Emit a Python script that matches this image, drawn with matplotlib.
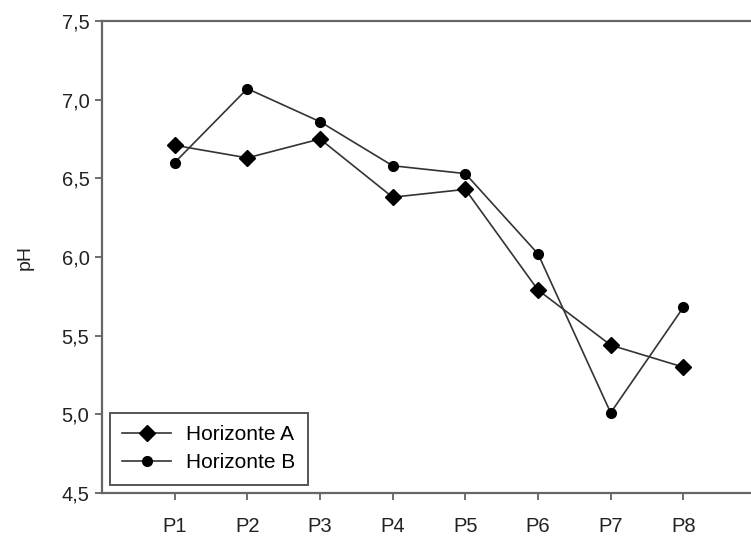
import matplotlib.pyplot as plt

plt.rcParams['font.family'] = ['Liberation Sans', 'DejaVu Sans']

points = ['P1', 'P2', 'P3', 'P4', 'P5', 'P6', 'P7', 'P8']
horizonte_a = [6.71, 6.63, 6.75, 6.38, 6.43, 5.79, 5.44, 5.30]
horizonte_b = [6.60, 7.07, 6.86, 6.58, 6.53, 6.02, 5.01, 5.68]
y_ticks = [4.5, 5.0, 5.5, 6.0, 6.5, 7.0, 7.5]

fig = plt.figure(figsize=(7.51, 5.36), dpi=100)
ax = fig.add_axes([102 / 751, 43 / 536, 654 / 751, 472 / 536])

x = range(1, len(points) + 1)
ax.plot(x, horizonte_a, color='#333333', linewidth=1.2, marker='D', markersize=8,
        markerfacecolor='black', markeredgecolor='black', label='Horizonte A')
ax.plot(x, horizonte_b, color='#333333', linewidth=1.2, marker='o', markersize=7,
        markerfacecolor='black', markeredgecolor='black', label='Horizonte B')

ax.set_xlim(0, 9)
ax.set_ylim(4.5, 7.5)
ax.set_xticks(list(x))
ax.set_xticklabels(points)
ax.set_yticks(y_ticks)
ax.set_yticklabels([f"{t:.1f}".replace('.', ',') for t in y_ticks])
ax.tick_params(axis='both', labelsize=14.5, length=5, width=1.2, color='#555555', labelcolor='#222222')
ax.tick_params(axis='x', pad=12)
ax.tick_params(axis='y', pad=4)

for s in ax.spines.values():
    s.set_color('#666666')
    s.set_linewidth(1.6)

ax.set_ylabel('pH', fontsize=14, color='#222222', labelpad=20)

leg = ax.legend(loc='lower left', bbox_to_anchor=(110 / 751, 51 / 536), bbox_transform=fig.transFigure,
                fontsize=15, frameon=True, fancybox=False, framealpha=1, edgecolor='#555555',
                borderaxespad=0, handlelength=2.35, borderpad=0.6, labelspacing=0.45, handletextpad=0.7)
leg.get_frame().set_linewidth(1.4)

fig.savefig('out.png', dpi=100)
